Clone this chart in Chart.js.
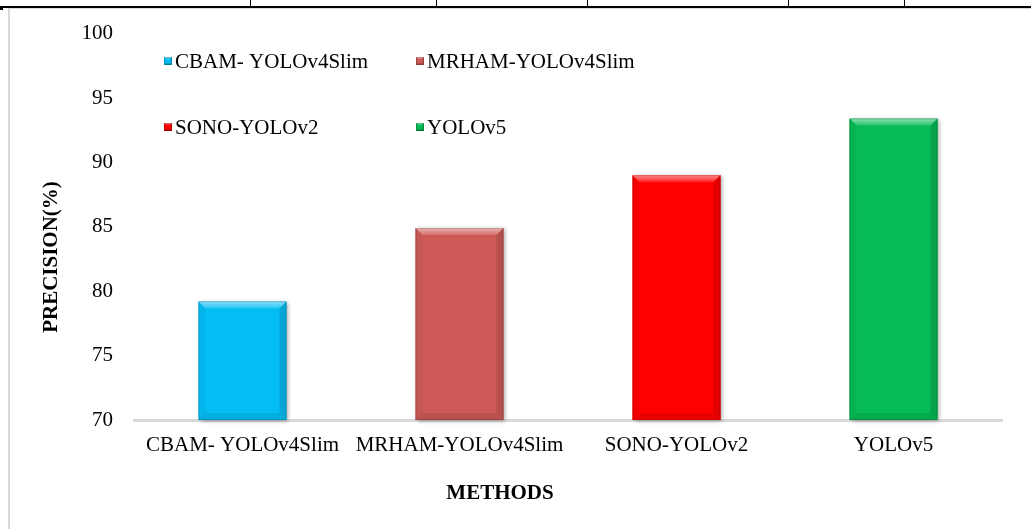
<!DOCTYPE html>
<html>
<head>
<meta charset="utf-8">
<title>Precision by method</title>
<script src="https://cdn.jsdelivr.net/npm/chart.js@4/dist/chart.umd.min.js"></script>
<style>
  html, body { margin: 0; padding: 0; background: #fff; }
  #wrap { position: relative; width: 1031px; height: 529px; overflow: hidden; background: #fff; }
  .rule { position: absolute; background: #000; }
  #frame { position: absolute; left: 8px; top: 8px; width: 1100px; height: 600px;
           border-left: 2px solid #d9d9d9; border-top: 1px solid #d9d9d9; }
  canvas { position: absolute; left: 0; top: 0; }
</style>
</head>
<body>
<div id="wrap">
  <!-- table rules above the figure -->
  <div class="rule" style="left:0;top:6px;width:1031px;height:2px"></div>
  <div class="rule" style="left:0;top:6px;width:3px;height:4px"></div>
  <div class="rule" style="left:250px;top:0;width:1px;height:7px"></div>
  <div class="rule" style="left:436px;top:0;width:1px;height:7px"></div>
  <div class="rule" style="left:587px;top:0;width:1px;height:7px"></div>
  <div class="rule" style="left:788px;top:0;width:1px;height:7px"></div>
  <div class="rule" style="left:904px;top:0;width:1px;height:7px"></div>
  <div id="frame"></div>
  <canvas id="chart" width="1031" height="529"></canvas>
</div>
<script>
// Methods compared and their precision (%)
const categories = ['CBAM- YOLOv4Slim', 'MRHAM-YOLOv4Slim', 'SONO-YOLOv2', 'YOLOv5'];
const precision = [79.2, 84.9, 89.0, 93.4];
const barColors = ['#05bdf5', '#cd5a57', '#ff0000', '#06bb55'];

// Value axis range and step
const yMin = 70;
const yMax = 100;
const yStep = 5;

const axisTitleX = 'METHODS';
const axisTitleY = 'PRECISION(%)';

const serif = "'Liberation Serif', 'Times New Roman', serif";
const fontSize = 21;

// Bar rectangle clipped to the plot area
function barBox(chart, bar) {
  return {
    l: bar.x - bar.width / 2,
    r: bar.x + bar.width / 2,
    t: bar.y,
    b: Math.min(bar.base, chart.chartArea.bottom)
  };
}

// Soft drop shadow behind each bar
const barShadow = {
  id: 'barShadow',
  beforeDatasetsDraw(chart) {
    const ctx = chart.ctx;
    chart.getDatasetMeta(0).data.forEach((bar, i) => {
      const box = barBox(chart, bar);
      ctx.save();
      ctx.shadowColor = 'rgba(0,0,0,0.35)';
      ctx.shadowBlur = 4;
      ctx.shadowOffsetX = 2;
      ctx.shadowOffsetY = 1;
      ctx.fillStyle = barColors[i];
      ctx.fillRect(box.l, box.t, box.r - box.l, box.b - box.t);
      ctx.restore();
    });
  }
};

// Bevelled edges
function bevel(ctx, l, t, r, b, s, bottomShade) {
  const poly = (pts, fill) => {
    ctx.beginPath();
    ctx.moveTo(pts[0][0], pts[0][1]);
    for (let k = 1; k < pts.length; k++) ctx.lineTo(pts[k][0], pts[k][1]);
    ctx.closePath();
    ctx.fillStyle = fill;
    ctx.fill();
  };
  const g = ctx.createLinearGradient(0, t, 0, t + s);
  g.addColorStop(0, 'rgba(255,255,255,0.55)');
  g.addColorStop(1, 'rgba(255,255,255,0.12)');
  poly([[l, t], [r, t], [r - s, t + s], [l + s, t + s]], g);
  poly([[l, t], [l + s, t + s], [l + s, b - s], [l, b]], 'rgba(0,0,0,0.04)');
  poly([[r, t], [r, b], [r - s, b - s], [r - s, t + s]], 'rgba(0,0,0,0.12)');
  poly([[l, b], [l + s, b - s], [r - s, b - s], [r, b]], 'rgba(0,0,0,' + bottomShade + ')');
  ctx.strokeStyle = 'rgba(0,0,0,0.16)';
  ctx.lineWidth = 1;
  ctx.strokeRect(l + 0.5, t + 0.5, r - l - 1, b - t - 1);
}

const barBevel = {
  id: 'barBevel',
  afterDatasetsDraw(chart) {
    const ctx = chart.ctx;
    chart.getDatasetMeta(0).data.forEach(bar => {
      const box = barBox(chart, bar);
      ctx.save();
      bevel(ctx, box.l, box.t, box.r, box.b, 7, 0.08);
      ctx.restore();
    });
  }
};

// Two-column key inside the plot, plus the axis titles
const keyAndTitles = {
  id: 'keyAndTitles',
  afterDraw(chart, args, opts) {
    const ctx = chart.ctx;
    const labels = chart.data.labels;
    const colors = chart.data.datasets[0].backgroundColor;
    ctx.save();
    ctx.font = fontSize + 'px ' + serif;
    ctx.textBaseline = 'middle';
    ctx.textAlign = 'left';
    labels.forEach((lab, i) => {
      const x = opts.cols[i % 2];
      const y = opts.rows[Math.floor(i / 2)];
      ctx.fillStyle = colors[i];
      ctx.fillRect(x, y - 4, 8, 8);
      bevel(ctx, x, y - 4, x + 8, y + 4, 2, 0.2);
      ctx.fillStyle = '#000';
      ctx.fillText(lab, x + 11, y + 1);
    });
    ctx.font = 'bold ' + fontSize + 'px ' + serif;
    ctx.textAlign = 'center';
    ctx.fillText(axisTitleX, opts.xTitle[0], opts.xTitle[1]);
    ctx.translate(opts.yTitle[0], opts.yTitle[1]);
    ctx.rotate(-Math.PI / 2);
    ctx.fillText(axisTitleY, 0, 0);
    ctx.restore();
  }
};

new Chart(document.getElementById('chart'), {
  type: 'bar',
  data: {
    labels: categories,
    datasets: [{
      data: precision,
      backgroundColor: barColors,
      borderWidth: 0,
      categoryPercentage: 1,
      barPercentage: 0.405
    }]
  },
  options: {
    responsive: false,
    devicePixelRatio: 1,
    animation: false,
    layout: { padding: { left: 0, top: 31, right: 29, bottom: 0 } },
    plugins: {
      legend: { display: false },
      tooltip: { enabled: false },
      keyAndTitles: {
        cols: [164, 416],
        rows: [61, 127],
        xTitle: [500, 494],
        yTitle: [52, 257]
      }
    },
    scales: {
      x: {
        grid: { display: false, drawTicks: false },
        border: { display: true, color: '#d9d9d9', width: 3 },
        ticks: { color: '#000', font: { family: serif, size: fontSize }, padding: 13, maxRotation: 0 },
        afterFit(scale) { scale.height = 109; }
      },
      y: {
        min: yMin,
        max: yMax,
        grid: { display: false, drawTicks: false },
        border: { display: false },
        ticks: { stepSize: yStep, color: '#000', font: { family: serif, size: fontSize }, padding: 21 },
        afterFit(scale) { scale.width = 134; }
      }
    }
  },
  plugins: [barShadow, barBevel, keyAndTitles]
});
</script>
</body>
</html>
